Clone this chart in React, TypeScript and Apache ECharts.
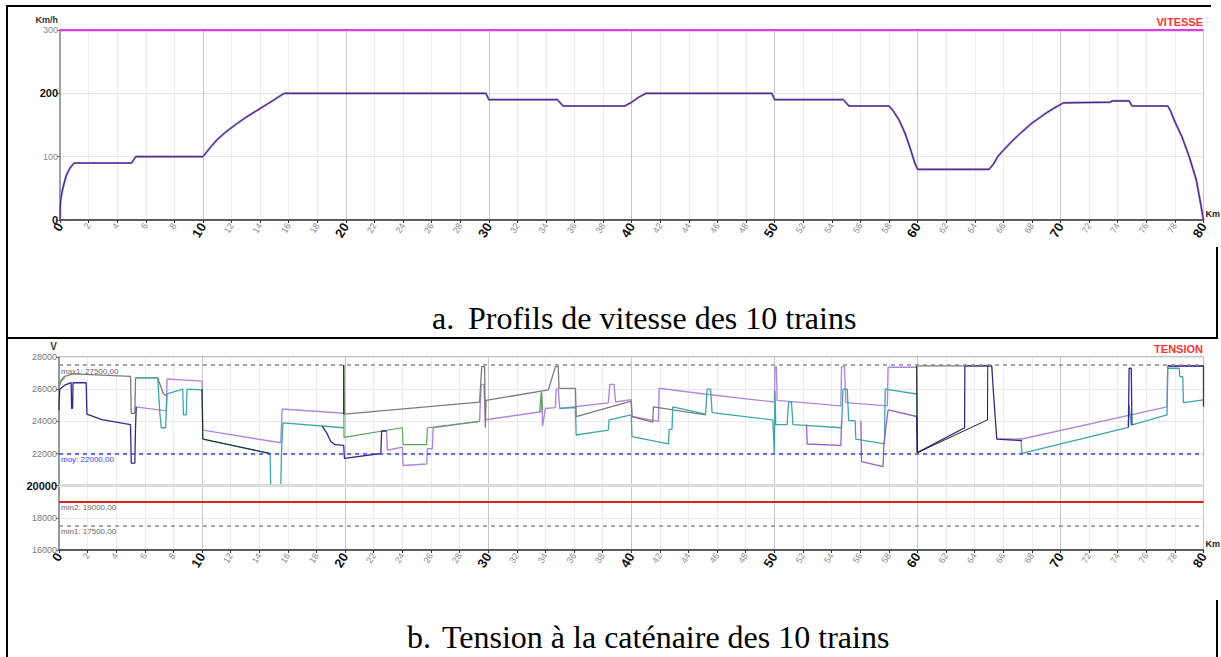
import React, { useEffect, useRef } from "react";
import * as echarts from "echarts";

// ---------- DATA ----------
const speedLimit: [number, number][] = [[0, 300], [80, 300]];
const speedProfile: [number, number][] = [
  [0, 0], [0.02, 22], [0.05, 32], [0.12, 42], [0.23, 53], [0.35, 63], [0.47, 72], [0.65, 80], [0.8, 85], [1.0, 90],
  [5.0, 90], [5.15, 95], [5.3, 100], [10.0, 100], [10.5, 114], [11, 127], [11.5, 137], [12, 146], [12.5, 154],
  [13, 162], [13.5, 169], [14, 176], [14.5, 183], [15, 190], [15.4, 196], [15.7, 200],
  [29.8, 200], [30, 190], [34.8, 190], [35.2, 180], [39.5, 180], [40, 186], [40.5, 194], [41, 200],
  [49.8, 200], [50, 190], [54.8, 190], [55.2, 180], [58.0, 180], [58.3, 172], [58.7, 158], [59.1, 138],
  [59.5, 112], [59.8, 90], [60, 80], [65, 80], [65.3, 88], [65.6, 100], [66, 110], [66.5, 122], [67, 133],
  [67.5, 143], [68, 153], [68.5, 161], [69, 169], [69.5, 176], [70.2, 185], [73.5, 186], [73.6, 188],
  [74.8, 188], [75, 180], [77.5, 180], [77.7, 172], [78, 155], [78.5, 131], [79, 100], [79.5, 63], [79.75, 32], [80, 0],
];

type Pt = [number, number] | null;
const tensionGray: Pt[] = [
  [0, 26400], [0.4, 26800], [1.0, 26950], [5.0, 26800], [5.05, 24500], [5.3, 24500], [5.35, 26700], [6.9, 26700],
  [7.1, 26200], [7.3, 25700], [7.5, 25600], null,
  [19.9, 27500], [19.95, 24450], [29.4, 25200], [29.55, 27400], [29.75, 27400], [29.8, 23600], [29.85, 25300],
  [34.2, 25950], [34.7, 27400], [34.9, 27400], [34.95, 26050], [36.1, 26050], [36.15, 24300], [40, 25250],
  [40.05, 24300], [41.5, 23950], [41.55, 24900], [45.2, 24400], null,
  [60, 27450], [65.2, 27450],
];
const tensionTeal: Pt[] = [
  [5.35, 26700], [6.9, 26700], [7.05, 24500], [7.15, 23600], [7.45, 23600], [7.55, 25700], [8.65, 26000],
  [8.7, 24400], [8.9, 24400], [8.95, 26000], [10, 25950], [10.05, 22900], [14.75, 22000], [14.8, 19950],
  [15.5, 19950], [15.55, 22000], [15.65, 23900], [19.9, 23600], null,
  [35.0, 24800], [36.1, 24850], [36.15, 23150], [38.4, 23460], [38.45, 24090], [40, 24400], [40.05, 23050],
  [42.6, 22600], [42.65, 23500], [42.85, 23500], [42.9, 24900], [45.2, 24450], [45.3, 26000], [45.55, 26000],
  [45.65, 24540], [49.9, 24090], [50.0, 22000], [50.05, 25900], [50.1, 23800], [50.9, 23800], [51.0, 25200],
  [51.2, 25200], [51.3, 23800], [54.7, 23600], [54.8, 26000], [55.1, 26000], [55.2, 24040], [55.65, 24040],
  [55.7, 22890], [57.7, 22600], [57.75, 26000], [59.95, 25700], [60, 22050], null,
  [67.25, 22890], [67.3, 22010], [74.75, 23630], [74.8, 25000], [74.95, 23770], [77.45, 24400], [77.5, 27300],
  [78.3, 27300], [78.35, 26780], [78.55, 26780], [78.6, 25160], [80, 25330],
];
const tensionGreen: Pt[] = [
  [0, 26100], [0.15, 26500], [0.4, 26700], null,
  [19.9, 27500], [19.92, 23000], [24, 23600], [24.05, 22550], [25.7, 22550], [25.75, 23600], [29.4, 24000], null,
  [33.6, 24600], [33.7, 25800], [33.8, 24700],
];
const tensionLavender: Pt[] = [
  [5.35, 24900], [7.5, 24650], [7.55, 26630], [10, 26500], [10.05, 23450], [15.5, 22670], [15.6, 24770],
  [19.9, 24500], null,
  [22.9, 23400], [22.95, 22200], [24, 22400], [24.05, 21250], [25.7, 21350], [25.75, 22300], [26.1, 22300],
  [26.15, 23600], [29.4, 24000], [29.5, 26300], [29.7, 26300], [29.8, 24100], [33.7, 24600], [33.75, 25800],
  [33.8, 23700], [34.0, 24800], [34.7, 24850], [34.75, 26000], [34.9, 26000], [35, 24800], [38.4, 25150],
  [38.5, 26300], [38.8, 26300], [38.9, 25200], [40, 25350], [40.05, 24300], [41.9, 24000], [41.95, 26060],
  [45.1, 25700], [50, 25200], [50.05, 27400], [50.15, 27400], [50.2, 25300], [54.65, 24960], [54.7, 27400],
  [54.9, 27400], [55, 25160], [57.9, 24960], [57.95, 27360], [59.95, 27360], [60, 22050], null,
  [65.55, 22900], [67.3, 22900], [77.45, 24900], [77.5, 27440], [80, 27440],
];
const tensionPurple: Pt[] = [
  [52.25, 23800], [52.3, 22590], [54.65, 22500], [54.7, 24000], null,
  [56.05, 24040], [56.1, 21490], [57.6, 21180], [57.65, 22500], [57.95, 24710], [59.95, 24300],
];
const tensionNavy: Pt[] = [
  [0, 24700], [0.05, 26000], [0.4, 26250], [0.85, 26400], [0.88, 24800], [0.95, 24800], [0.98, 26400],
  [1.9, 26400], [1.95, 24450], [3, 24100], [5.0, 23800], [5.05, 21400], [5.3, 21400], [5.35, 23700], [5.4, 24900], null,
  [18.4, 23700], [18.7, 23300], [19.0, 22750], [19.3, 22550], [19.9, 22500], [19.95, 21700], [22.5, 22000],
  [22.55, 23400], [22.9, 23400], null,
  [59.95, 24300], [60, 22050], [63.3, 23600], [63.32, 27450], [65.2, 27450], [65.3, 26000], [65.55, 22900],
  [67.3, 22800], null,
  [74.75, 23630], [74.8, 27300], [74.95, 27300], [75, 23770], null,
  [77.5, 27440], [80, 27440], [80, 24900],
];
const tensionBlack: Pt[] = [
  [19.9, 27500], [19.9, 24450], null,
  [59.95, 27450], [60, 22050], [64.9, 24090], [64.92, 27450], null,
  [10, 26000], [10.05, 22900], [14.75, 22000],
];

const limitNames = ["max1", "moy", "min2", "min1"];
const limitValues = [27500, 22000, 19000, 17500];

const captionA = ["a.", "Profils de vitesse des 10 trains"];
const captionB = ["b.", "Tension à la caténaire des 10 trains"];

// ---------- HELPERS ----------
const FONT = "Liberation Sans, Arial, sans-serif";
const SERIF = "Liberation Serif, Times New Roman, serif";
const toData = (pts: Pt[]) => pts.map((p) => (p === null ? ["-", "-"] : p));
const fmtNum = (v: number) => v.toFixed(2).replace(".", ",");

const xLabelRich = {
  b: { fontSize: 13, fontWeight: "bold", color: "#111", fontFamily: FONT },
  n: { fontSize: 9, color: "#8a8a8a", fontFamily: FONT },
};

function xAxisCfg(gridIndex: number) {
  return {
    type: "value",
    gridIndex,
    min: 0,
    max: 80,
    interval: 2,
    name: "Km",
    nameLocation: "end",
    nameGap: 2,
    nameTextStyle: {
      fontSize: 9, fontWeight: "bold", color: "#222", fontFamily: FONT,
      align: "left", verticalAlign: "bottom", padding: [0, 0, 2, 0],
    },
    axisLine: { show: true, onZero: false, lineStyle: { color: "#333", width: 1.5 } },
    axisTick: { show: true, length: 3, lineStyle: { color: "#333" } },
    axisLabel: {
      rotate: 58,
      margin: 4,
      formatter: (v: number) => (v % 10 === 0 ? `{b|${v}}` : `{n|${v}}`),
      rich: xLabelRich,
    },
    splitLine: {
      show: true,
      lineStyle: { color: ["#c8c8c8", "#ececec", "#ececec", "#ececec", "#ececec"], width: 1 },
    },
  };
}

function lineSeries(data: any[], color: string, width: number, xi: number, extra: any = {}) {
  return {
    type: "line",
    xAxisIndex: xi,
    yAxisIndex: xi,
    data,
    showSymbol: false,
    symbol: "none",
    connectNulls: false,
    silent: true,
    lineStyle: { color, width },
    ...extra,
  };
}

function caption(text: string, x: number, y: number) {
  return {
    type: "text", x, y,
    style: { text, fill: "#000", fontSize: 32, fontFamily: SERIF, align: "left", verticalAlign: "middle" },
  };
}

export default function App() {
  const ref = useRef<HTMLDivElement>(null);

  useEffect(() => {
    if (!ref.current) return;
    const chart = echarts.init(ref.current, null, { renderer: "svg" });

    const markLineData = limitValues.map((v, i) => {
      const name = limitNames[i];
      const isRed = name === "min2";
      const isBlue = name === "moy";
      return {
        yAxis: v,
        lineStyle: {
          color: isRed ? "#e01e1e" : isBlue ? "#3344ee" : "#8c8c8c",
          type: isRed ? "solid" : [4, 4],
          width: isRed ? 2 : 1.5,
        },
        label: {
          show: true,
          position: "insideStartBottom",
          distance: 2,
          formatter: `${name}: ${fmtNum(v)}`,
          fontSize: 8,
          fontFamily: FONT,
          color: isBlue ? "#3344ee" : "#6a6a6a",
        },
      };
    });

    const option: any = {
      animation: false,
      textStyle: { fontFamily: FONT },
      grid: [
        { left: 60, top: 30, width: 1146, height: 190, show: true, borderColor: "#999", borderWidth: 1 },
        { left: 59, top: 357, width: 1147, height: 193, show: true, borderColor: "#888", borderWidth: 1 },
      ],
      xAxis: [xAxisCfg(0), xAxisCfg(1)],
      yAxis: [
        {
          type: "value",
          gridIndex: 0,
          min: 0,
          max: 300,
          interval: 100,
          axisLine: { show: true, onZero: false, lineStyle: { color: "#a0a0a0", width: 2 } },
          axisTick: { show: true, length: 3, lineStyle: { color: "#666" } },
          axisLabel: {
            margin: 2,
            formatter: (v: number) => (v === 0 || v === 200 ? `{b|${v}}` : `{n|${v}}`),
            rich: {
              b: { fontSize: 11, fontWeight: "bold", color: "#111", fontFamily: FONT },
              n: { fontSize: 9, color: "#888", fontFamily: FONT },
            },
          },
          splitLine: { show: true, lineStyle: { color: "#e4e4e4", width: 1 } },
        },
        {
          type: "value",
          gridIndex: 1,
          min: 16000,
          max: 28000,
          interval: 2000,
          axisLine: { show: true, onZero: false, lineStyle: { color: "#888", width: 1.5 } },
          axisTick: { show: true, length: 3, lineStyle: { color: "#666" } },
          axisLabel: {
            margin: 2,
            formatter: (v: number) => (v === 20000 ? `{b|${v}}` : `{n|${v}}`),
            rich: {
              b: { fontSize: 11, fontWeight: "bold", color: "#111", fontFamily: FONT },
              n: { fontSize: 9, color: "#777", fontFamily: FONT },
            },
          },
          splitLine: { show: true, lineStyle: { color: "#e8e8e8", width: 1 } },
        },
      ],
      series: [
        lineSeries(speedProfile, "#a07ad8", 2.2, 0),
        lineSeries(speedProfile, "#2c1f5e", 0.9, 0),
        lineSeries(speedLimit, "#dd3fdd", 2.5, 0, { z: 5 }),
        lineSeries(toData(tensionLavender), "#b088dd", 1.4, 1, {
          markLine: {
            silent: true,
            symbol: ["none", "none"],
            data: [
              { yAxis: 20000, lineStyle: { color: "#dcdcdc", width: 3, type: "solid" }, label: { show: false } },
              ...markLineData,
            ],
          },
        }),
        lineSeries(toData(tensionGray), "#7c7c7c", 1.3, 1),
        lineSeries(toData(tensionTeal), "#3fa6a8", 1.3, 1),
        lineSeries(toData(tensionGreen), "#5aa55a", 1.2, 1),
        lineSeries(toData(tensionPurple), "#9a5fc4", 1.3, 1),
        lineSeries(toData(tensionNavy), "#3a2688", 1.3, 1),
        lineSeries(toData(tensionBlack), "#222222", 1, 1),
      ],
      graphic: [
        // table borders
        { type: "line", shape: { x1: 7, y1: 5, x2: 7, y2: 657 }, style: { stroke: "#000", lineWidth: 2 } },
        { type: "line", shape: { x1: 6, y1: 6, x2: 1211, y2: 6 }, style: { stroke: "#000", lineWidth: 2 } },
        { type: "line", shape: { x1: 6, y1: 338, x2: 1218, y2: 338 }, style: { stroke: "#000", lineWidth: 2 } },
        { type: "line", shape: { x1: 1217, y1: 247, x2: 1217, y2: 338 }, style: { stroke: "#000", lineWidth: 2 } },
        { type: "line", shape: { x1: 1217, y1: 600, x2: 1217, y2: 657 }, style: { stroke: "#000", lineWidth: 2 } },
        // titles
        {
          type: "text", x: 1203, y: 22,
          style: { text: "VITESSE", fill: "#ff3333", fontSize: 11, fontWeight: "bold", fontFamily: FONT, align: "right", verticalAlign: "middle" },
        },
        {
          type: "text", x: 1203, y: 349,
          style: { text: "TENSION", fill: "#ff3333", fontSize: 11, fontWeight: "bold", fontFamily: FONT, align: "right", verticalAlign: "middle" },
        },
        {
          type: "text", x: 58, y: 20,
          style: { text: "Km/h", fill: "#333", fontSize: 9, fontWeight: "bold", fontFamily: FONT, align: "right", verticalAlign: "middle" },
        },
        {
          type: "text", x: 57, y: 346,
          style: { text: "V", fill: "#333", fontSize: 10, fontWeight: "bold", fontFamily: FONT, align: "right", verticalAlign: "middle" },
        },
        // captions
        caption(captionA[0], 432, 318),
        caption(captionA[1], 468, 318),
        caption(captionB[0], 407, 637),
        caption(captionB[1], 442, 637),
      ],
    };

    chart.setOption(option);
    return () => chart.dispose();
  }, []);

  return (
    <div
      ref={ref}
      style={{ position: "fixed", left: 0, top: 0, width: 1221, height: 657, background: "#fff" }}
    />
  );
}
